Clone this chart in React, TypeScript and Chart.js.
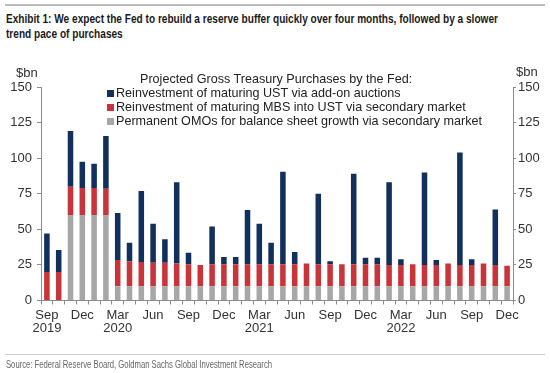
import React, { useEffect, useLayoutEffect, useRef } from 'react';
import { Chart, registerables } from 'chart.js';
Chart.register(...registerables);

const categories = [
  'Sep 2019', 'Oct 2019', 'Nov 2019', 'Dec 2019',
  'Jan 2020', 'Feb 2020', 'Mar 2020', 'Apr 2020', 'May 2020', 'Jun 2020', 'Jul 2020', 'Aug 2020', 'Sep 2020', 'Oct 2020', 'Nov 2020', 'Dec 2020',
  'Jan 2021', 'Feb 2021', 'Mar 2021', 'Apr 2021', 'May 2021', 'Jun 2021', 'Jul 2021', 'Aug 2021', 'Sep 2021', 'Oct 2021', 'Nov 2021', 'Dec 2021',
  'Jan 2022', 'Feb 2022', 'Mar 2022', 'Apr 2022', 'May 2022', 'Jun 2022', 'Jul 2022', 'Aug 2022', 'Sep 2022', 'Oct 2022', 'Nov 2022', 'Dec 2022',
];

// Permanent OMOs for balance sheet growth via secondary market
const omoValues = [
  0, 0, 60, 60, 60, 60, 10, 10, 10, 10, 10, 10, 10, 10, 10, 10,
  10, 10, 10, 10, 10, 10, 10, 10, 10, 10, 10, 10,
  10, 10, 10, 10, 10, 10, 10, 10, 10, 10, 10, 10,
];

// Reinvestment of maturing MBS into UST via secondary market
const mbsValues = [
  20, 20, 20, 19, 19, 18.5, 18.5, 17.5, 17, 16.5, 16.5, 16, 15.5, 15, 15.5, 15.5,
  15.5, 15.5, 15.5, 15.5, 15.5, 15.5, 16, 15.5, 15.5, 15.5, 15.5, 15.5,
  15.5, 15, 15, 15.5, 15, 15, 16, 15, 15, 16, 15, 14.5,
];

// Reinvestment of maturing UST via add-on auctions
const ustValues = [
  27, 15.5, 39, 18.5, 17, 37, 33, 13, 50, 27.5, 16.5, 57, 8, 0, 26.5, 5,
  5, 38, 28.5, 15, 65, 8.5, 0, 49.5, 2, 0, 63.5, 4.5,
  4.5, 58, 4, 0, 65, 3.5, 0, 79, 4, 0, 39, 0,
];

const yTicks = [0, 25, 50, 75, 100, 125, 150];
const labeledMonths = ['Sep', 'Dec', 'Mar', 'Jun'];
const yearLabeled = ['Sep 2019', 'Mar 2020', 'Mar 2021', 'Mar 2022'];

const titleLine1 = 'Exhibit 1: We expect the Fed to rebuild a reserve buffer quickly over four months, followed by a slower';
const titleLine2 = 'trend pace of purchases';
const sourceText = 'Source: Federal Reserve Board, Goldman Sachs Global Investment Research';
const legendTitle = 'Projected Gross Treasury Purchases by the Fed:';
const legendItems = [
  { label: 'Reinvestment of maturing UST via add-on auctions', color: '#12305c' },
  { label: 'Reinvestment of maturing MBS into UST via secondary market', color: '#c9343b' },
  { label: 'Permanent OMOs for balance sheet growth via secondary market', color: '#a7a7a7' },
];

const FONT = '"Liberation Sans", Arial, sans-serif';

function fitWidth(el: HTMLElement | null, measure: HTMLElement | null, target: number) {
  if (!el || !measure) return;
  el.style.transform = 'none';
  const w = measure.getBoundingClientRect().width;
  if (w > 0) el.style.transform = `scaleX(${target / w})`;
}

export default function App() {
  const canvasRef = useRef<HTMLCanvasElement | null>(null);
  const titleRef = useRef<HTMLDivElement | null>(null);
  const title1Ref = useRef<HTMLSpanElement | null>(null);
  const sourceRef = useRef<HTMLDivElement | null>(null);
  const sourceSpanRef = useRef<HTMLSpanElement | null>(null);

  useLayoutEffect(() => {
    document.body.style.margin = '0';
    fitWidth(titleRef.current, title1Ref.current, 492);
    fitWidth(sourceRef.current, sourceSpanRef.current, 266);
  }, []);

  useEffect(() => {
    const ctx = canvasRef.current;
    if (!ctx) return;
    const chart = new Chart(ctx, {
      type: 'bar',
      data: {
        labels: categories,
        datasets: [
          { label: legendItems[2].label, data: omoValues, backgroundColor: legendItems[2].color, yAxisID: 'y' },
          { label: legendItems[1].label, data: mbsValues, backgroundColor: legendItems[1].color, yAxisID: 'y' },
          { label: legendItems[0].label, data: ustValues, backgroundColor: legendItems[0].color, yAxisID: 'y' },
        ],
      },
      options: {
        responsive: false,
        animation: false,
        devicePixelRatio: 1,
        layout: { padding: { top: 87, left: 0, right: 0, bottom: 0 } },
        datasets: { bar: { categoryPercentage: 1, barPercentage: 0.47, borderWidth: 0 } },
        plugins: { legend: { display: false }, tooltip: { enabled: false }, title: { display: false } },
        scales: {
          x: {
            stacked: true,
            offset: true,
            grid: { display: true, drawOnChartArea: false, offset: true, tickLength: 4, color: '#8c8c8c', tickColor: '#8c8c8c' },
            border: { display: true, color: '#8c8c8c', width: 1 },
            ticks: {
              autoSkip: false,
              maxRotation: 0,
              minRotation: 0,
              padding: 4,
              color: '#333333',
              font: { family: FONT, size: 13, lineHeight: 1.0 },
              callback: (_v: any, i: number) => {
                const c = categories[i];
                const [m, y] = c.split(' ');
                if (!labeledMonths.includes(m)) return '';
                if (yearLabeled.includes(c)) return [m, y];
                return m;
              },
            },
            afterFit: (s: any) => { s.height = 72.5; },
          },
          y: {
            stacked: true,
            position: 'left',
            min: 0,
            max: 150,
            afterBuildTicks: (s: any) => { s.ticks = yTicks.map((v) => ({ value: v })); },
            grid: { display: true, drawOnChartArea: false, tickLength: 4, color: '#8c8c8c', tickColor: '#8c8c8c' },
            border: { display: true, color: '#8c8c8c', width: 1 },
            ticks: { padding: 5, color: '#333333', font: { family: FONT, size: 13 } },
            afterFit: (s: any) => { s.width = 41; },
          },
          y2: {
            position: 'right',
            min: 0,
            max: 150,
            afterBuildTicks: (s: any) => { s.ticks = yTicks.map((v) => ({ value: v })); },
            grid: { display: true, drawOnChartArea: false, tickLength: 3, color: '#8c8c8c', tickColor: '#8c8c8c' },
            border: { display: true, color: '#8c8c8c', width: 1 },
            ticks: { padding: 2, color: '#333333', font: { family: FONT, size: 13 } },
            afterFit: (s: any) => { s.width = 37; },
          },
        },
      },
    });
    return () => chart.destroy();
  }, []);

  return (
    <div style={{ position: 'relative', width: 550, height: 373, background: '#fff', overflow: 'hidden', fontFamily: FONT }}>
      <div style={{ position: 'absolute', left: 5, top: 4, width: 540, height: 2, background: '#bdbdbd' }} />
      <div ref={titleRef} style={{ position: 'absolute', left: 6, top: 12, transformOrigin: '0 0', fontWeight: 'bold', fontSize: 12.5, lineHeight: '15px', color: '#1a1a1a', whiteSpace: 'nowrap' }}>
        <span ref={title1Ref}>{titleLine1}</span>
        <br />
        <span>{titleLine2}</span>
      </div>
      <canvas ref={canvasRef} width={550} height={373} style={{ position: 'absolute', left: 0, top: 0, width: 550, height: 373 }} />
      <div style={{ position: 'absolute', left: 16, top: 65, fontSize: 13, lineHeight: '16px', color: '#333' }}>$bn</div>
      <div style={{ position: 'absolute', left: 516, top: 64, fontSize: 13, lineHeight: '16px', color: '#333' }}>$bn</div>
      <div style={{ position: 'absolute', left: 140, top: 71, fontSize: 12.6, lineHeight: '16px', color: '#222', whiteSpace: 'nowrap' }}>{legendTitle}</div>
      {legendItems.map((it, i) => (
        <div key={i} style={{ position: 'absolute', left: 107, top: 85 + i * 14, fontSize: 12.6, lineHeight: '16px', color: '#222', whiteSpace: 'nowrap', display: 'flex', alignItems: 'center' }}>
          <span style={{ display: 'inline-block', width: 7, height: 7, background: it.color, marginRight: 2 }} />
          <span>{it.label}</span>
        </div>
      ))}
      <div style={{ position: 'absolute', left: 5, top: 354, width: 540, height: 1, background: '#cfcfcf' }} />
      <div ref={sourceRef} style={{ position: 'absolute', left: 6, top: 359, transformOrigin: '0 0', fontSize: 10, lineHeight: '12px', color: '#666', whiteSpace: 'nowrap' }}>
        <span ref={sourceSpanRef}>{sourceText}</span>
      </div>
    </div>
  );
}
